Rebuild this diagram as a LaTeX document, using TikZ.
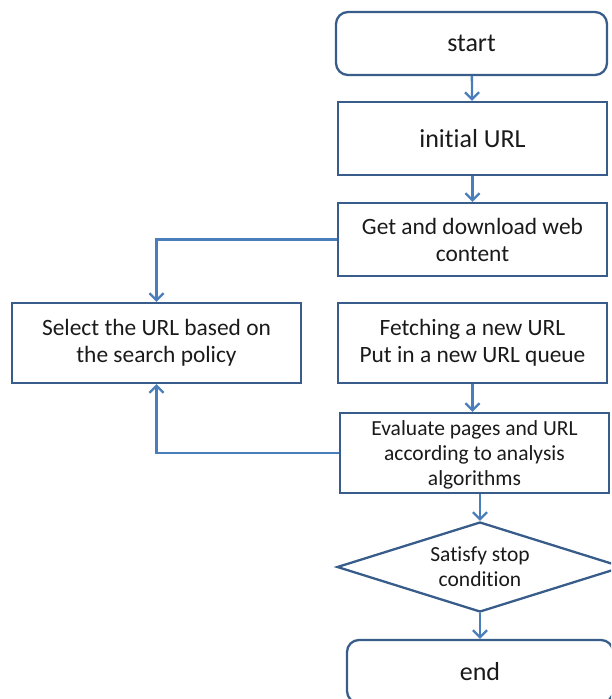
\documentclass[tikz,border=0pt]{standalone}
\usepackage{fontspec}
\setmainfont{Carlito}[Ligatures=NoCommon]
\usetikzlibrary{shapes.geometric,arrows.meta}
\definecolor{boxc}{HTML}{385D8A}
\definecolor{arrc}{HTML}{4A7EBB}
\definecolor{txtc}{HTML}{1A1A1A}
\begin{document}
\begin{tikzpicture}[x=1pt,y=-1pt,
  box/.style={draw=boxc, line width=2.3pt, rectangle, text=txtc, align=center, inner sep=0pt, font=\fontsize{23.4}{27}\selectfont},
  bigtxt/.style={font=\fontsize{26}{30}\selectfont},
  smalltxt/.style={font=\fontsize{21.5}{25}\selectfont},
  rbox/.style={box, rounded corners=12pt},
  conn/.style={draw=arrc, line width=2.3pt, -{Straight Barb[length=7pt,width=14pt,line width=2.3pt]}}]
\useasboundingbox (0,0) rectangle (611,699);
\clip (0,0) rectangle (611,699);
\node[rbox, bigtxt, minimum width=271pt, minimum height=63pt] (start) at (471.5,43.5) {start};
\node[box, bigtxt, minimum width=269pt, minimum height=73pt] (init) at (472.5,138.5) {initial URL};
\node[box, minimum width=269pt, minimum height=73pt] (get) at (472.5,239.5) {Get and download web\\content};
\node[box, minimum width=289pt, minimum height=80pt] (sel) at (156.5,343) {Select the URL based on\\the search policy};
\node[box, minimum width=269pt, minimum height=80pt] (fetch) at (472.5,343) {Fetching a new URL\\Put in a new URL queue};
\node[box, smalltxt, minimum width=269pt, minimum height=80pt, text depth=-3pt] (eval) at (474.5,453) {Evaluate pages and URL\\according to analysis\\algorithms};
\node[draw=boxc, line width=2.3pt, diamond, aspect=3.18, text=txtc, align=center, inner sep=0pt, smalltxt, minimum width=286pt, minimum height=90pt] (dia) at (480,567) {Satisfy stop\\condition};
\node[rbox, bigtxt, minimum width=266pt, minimum height=63pt] (end) at (480,671.5) {end};
\draw[conn] (start) -- (init);
\draw[conn] (init) -- (get);
\draw[conn] (get.west) -| (sel.north);
\draw[conn] (fetch) -- (fetch.south |- eval.north);
\draw[conn] (eval.west) -| (sel.south);
\draw[conn] (eval.south -| dia.north) -- (dia.north);
\draw[conn] (dia) -- (end);
\end{tikzpicture}
\end{document}
